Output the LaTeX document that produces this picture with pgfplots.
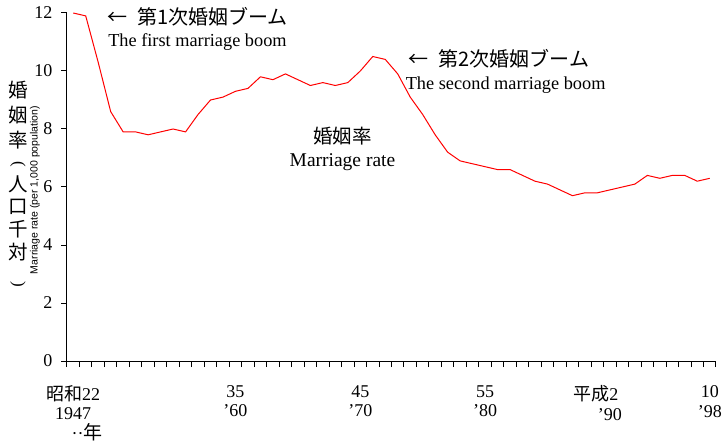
\documentclass[border=0pt]{standalone}
\usepackage{fontspec}
\setmainfont{Liberation Serif}
\newfontfamily\jp{Noto Sans CJK JP}
\newfontfamily\lsans{Liberation Sans}
\usepackage{pgfplots}
\pgfplotsset{compat=1.18}

\begin{document}
\begin{tikzpicture}[x=1pt,y=1pt]
\begin{axis}[
  scale only axis, width=649pt, height=348pt,
  at={(0,0)}, anchor=south west,
  xmin=1946.5, xmax=1998.5, ymin=0, ymax=12,
  axis x line=bottom, axis y line=left,
  axis line style={-, line width=1pt},
  tick align=outside,
  major tick length=6pt, minor tick length=6pt,
  ytick={0,2,...,12},
  ytick style={black, line width=1pt},
  xtick={1947,1960,1970,1980,1990,1998},
  xticklabels={
    {{\jp 昭和}22\\1947\\\hspace*{28pt}··{\jp\fontsize{19}{19}\selectfont 年}},
    {35\\’60},
    {45\\’70},
    {55\\’80},
    {{\jp 平成}2\hspace*{28pt}\\’90},
    {10\\’98}},
  major x tick style={draw=none},
  minor xtick={1946.5,1947.5,...,1998.5},
  minor x tick style={black, line width=1pt},
  xticklabel style={align=center, font=\fontsize{18}{19.5}\selectfont, yshift=-15pt},
  yticklabel style={font=\fontsize{18}{18}\selectfont, xshift=-5pt},
  /pgf/number format/assume math mode=true,
  clip=false,
]
\addplot[red, line width=1pt] coordinates {
  (1947,12.0) (1948,11.9) (1949,10.3) (1950,8.6) (1951,7.9) (1952,7.9)
  (1953,7.8) (1954,7.9) (1955,8.0) (1956,7.9) (1957,8.5) (1958,9.0)
  (1959,9.1) (1960,9.3) (1961,9.4) (1962,9.8) (1963,9.7) (1964,9.9)
  (1965,9.7) (1966,9.5) (1967,9.6) (1968,9.5) (1969,9.6) (1970,10.0)
  (1971,10.5) (1972,10.4) (1973,9.9) (1974,9.1) (1975,8.5) (1976,7.8)
  (1977,7.2) (1978,6.9) (1979,6.8) (1980,6.7) (1981,6.6) (1982,6.6)
  (1983,6.4) (1984,6.2) (1985,6.1) (1986,5.9) (1987,5.7) (1988,5.8)
  (1989,5.8) (1990,5.9) (1991,6.0) (1992,6.1) (1993,6.4) (1994,6.3)
  (1995,6.4) (1996,6.4) (1997,6.2) (1998,6.3)
};
\node[anchor=west, inner sep=0pt, font=\jp\fontsize{20}{20}\selectfont]
  at (axis cs:1949.71,11.86) {←\hspace{10pt}第1次婚姻ブーム};
\node[anchor=west, inner sep=0pt, font=\fontsize{18.3}{18}\selectfont]
  at (axis cs:1949.79,11.0) {The first marriage boom};
\node[anchor=west, inner sep=0pt, font=\jp\fontsize{20}{20}\selectfont]
  at (axis cs:1973.87,10.41) {←\hspace{10pt}第2次婚姻ブーム};
\node[anchor=west, inner sep=0pt, font=\fontsize{18.3}{18}\selectfont]
  at (axis cs:1973.63,9.52) {The second marriage boom};
\node[inner sep=0pt, font=\jp\fontsize{19.5}{19}\selectfont]
  at (axis cs:1968.57,7.76) {婚姻率};
\node[inner sep=0pt, font=\fontsize{19.5}{18}\selectfont]
  at (axis cs:1968.57,6.86) {Marriage rate};
\end{axis}
% vertical y-axis title, one character per node
\foreach \c/\py in {婚/90, 姻/115, 率/140, 人/184, 口/207, 千/229, 対/252}
  \node[inner sep=0pt, font=\jp\fontsize{19.5}{19.5}\selectfont] at (-49,361-\py) {\c};
\node[inner sep=0pt, font=\fontsize{17}{17}\selectfont]
  at (-49,361-165) {\rotatebox[origin=c]{-90}{(}};
\node[inner sep=0pt, font=\fontsize{17}{17}\selectfont]
  at (-49,361-285) {\rotatebox[origin=c]{-90}{)}};
\node[rotate=90, inner sep=0pt, font=\lsans\fontsize{10.5}{10.5}\selectfont]
  at (-32,171) {Marriage rate (per 1,000 population)};
\pgfresetboundingbox
\path (-67,-81) rectangle (656,361);
\end{tikzpicture}
\end{document}
